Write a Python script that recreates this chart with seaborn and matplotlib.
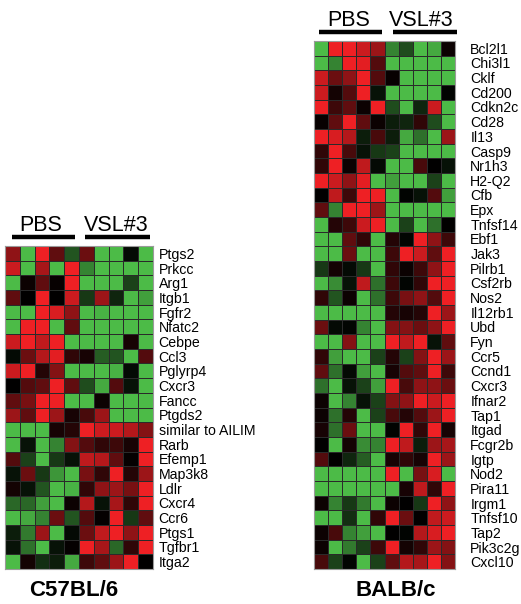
import numpy as np
import pandas as pd
import matplotlib
matplotlib.use("Agg")
import matplotlib.pyplot as plt
from matplotlib.colors import LinearSegmentedColormap
from matplotlib.lines import Line2D
import seaborn as sns

sns.set_theme(style="white")
plt.rcParams["font.family"] = ["Liberation Sans", "DejaVu Sans"]

samples = ["PBS1", "PBS2", "PBS3", "PBS4", "PBS5",
           "VSL1", "VSL2", "VSL3", "VSL4", "VSL5"]

# C57BL/6 genes (relative expression, green = low, red = high)
c57_genes = ["Ptgs2", "Prkcc", "Arg1", "Itgb1", "Fgfr2", "Nfatc2", "Cebpe", "Ccl3",
             "Pglyrp4", "Cxcr3", "Fancc", "Ptgds2", "similar to AILIM", "Rarb",
             "Efemp1", "Map3k8", "Ldlr", "Cxcr4", "Ccr6", "Ptgs1", "Tgfbr1", "Itga2"]
c57_values = [
    [0.60, -1.0, 1.00, 0.40, -0.45, 0.45, -1.0, -1.0, -0.05, -1.0],
    [0.85, -1.0, 0.70, -1.0, 1.00, -0.70, -1.0, -1.0, -1.0, -1.0],
    [-1.0, 0.05, 0.40, 0.03, 1.00, -1.0, -1.0, -1.0, -0.35, -1.0],
    [0.40, 0.00, 1.00, 0.00, 0.85, -0.30, 0.65, -0.20, -1.0, -0.85],
    [-1.0, -1.0, 1.00, 0.90, 0.60, -1.0, -0.95, -1.0, -1.0, -1.0],
    [-1.0, 1.00, 1.00, -1.0, 0.40, -1.0, -1.0, -1.0, -1.0, -1.0],
    [0.85, 1.00, 0.80, 1.00, -1.0, -1.0, -1.0, -1.0, 0.10, -1.0],
    [-0.05, 0.45, 0.75, 0.95, 0.20, 0.10, -0.50, -0.45, -1.0, 0.35],
    [0.85, 1.00, 0.15, 0.55, -1.0, -1.0, -1.0, -0.95, -0.05, -1.0],
    [0.00, 0.35, 0.40, 1.00, 0.40, -0.40, -0.90, 0.35, -0.10, -1.0],
    [0.40, 0.50, 1.00, 1.00, -1.0, -1.0, 0.05, -1.0, -1.0, -1.0],
    [0.65, 0.40, 1.00, 0.65, 0.10, 0.30, 0.65, -1.0, -1.0, -1.0],
    [-1.0, -1.0, -1.0, 0.10, 0.15, 1.00, 0.85, 0.85, 0.75, 0.55],
    [-1.0, -0.10, -1.0, -0.70, 0.55, 0.35, 0.20, 0.25, 0.10, 1.00],
    [0.35, -0.35, -1.0, -0.30, -0.10, 0.80, 0.75, 0.40, 0.02, 1.00],
    [-0.10, 0.45, -0.30, -0.80, -1.0, 0.50, 0.20, 1.00, 0.15, 0.65],
    [0.08, -0.10, -0.45, -1.0, -0.95, 0.20, 0.60, 0.65, 0.50, 1.00],
    [-0.55, -0.55, -0.85, -1.0, 0.05, 0.75, -0.10, 0.70, 0.20, 1.00],
    [-1.0, -0.90, -0.70, 0.45, -0.45, 0.35, 0.02, 1.00, -0.30, 0.40],
    [-0.15, -0.65, 0.65, -1.0, -0.05, 0.45, 0.80, 1.00, 0.60, 1.00],
    [-0.10, -0.60, -1.0, -0.10, 0.02, 1.00, 0.70, -0.55, 0.20, 1.00],
    [-1.0, 0.08, -0.25, -0.15, -0.90, 0.25, 0.40, 0.65, 1.00, 0.00],
]

# BALB/c genes
balb_genes = ["Bcl2l1", "Chi3l1", "Cklf", "Cd200", "Cdkn2c", "Cd28", "Il13", "Casp9",
              "Nr1h3", "H2-Q2", "Cfb", "Epx", "Tnfsf14", "Ebf1", "Jak3", "Pilrb1",
              "Csf2rb", "Nos2", "Il12rb1", "Ubd", "Fyn", "Ccr5", "Ccnd1", "Cxcr3",
              "Ifnar2", "Tap1", "Itgad", "Fcgr2b", "Igtp", "Nod2", "Pira11", "Irgm1",
              "Tnfsf10", "Tap2", "Pik3c2g", "Cxcl10"]
balb_values = [
    [-1.0, 1.00, 1.00, 0.85, 0.65, -0.70, -0.40, -1.0, -0.90, 0.05],
    [-1.0, -0.70, 1.00, 0.95, 0.35, -1.0, -1.0, -1.0, -1.0, -1.0],
    [0.85, 0.45, 0.60, 1.00, 0.35, 0.03, -1.0, -1.0, -1.0, -1.0],
    [0.85, 0.08, 0.35, 1.00, -0.10, -1.0, -1.0, -1.0, -1.0, -0.02],
    [1.00, 0.25, 0.40, 0.05, 1.00, -0.40, -1.0, -0.20, 0.85, -1.0],
    [0.03, 0.40, 1.00, 0.40, 0.05, -0.15, -0.20, 0.20, -0.40, -1.0],
    [1.00, 0.90, 0.75, -0.15, 0.30, -0.15, -0.90, -0.60, -1.0, 0.65],
    [0.20, 1.00, 0.30, -0.10, -0.30, -0.35, -1.0, -1.0, -1.0, -1.0],
    [0.20, 1.00, 0.05, 0.80, -0.05, -1.0, -1.0, 0.30, 0.00, -0.10],
    [1.00, 0.85, 0.60, 0.95, -1.0, -0.85, -1.0, -1.0, -0.35, -1.0],
    [0.00, 0.80, 0.25, 1.00, 1.00, -1.0, -0.02, -0.10, 0.35, -0.85],
    [0.40, -0.70, 1.00, 1.00, 0.65, -1.0, -1.0, -1.0, -1.0, -1.0],
    [-1.0, 0.15, 0.25, 0.85, 1.00, -1.0, -0.35, -1.0, -0.60, 0.00],
    [-1.0, -1.0, 0.40, 0.20, -1.0, 0.15, -0.03, 1.00, 0.60, 0.25],
    [-1.0, -1.0, 0.45, -1.0, -1.0, 0.25, 1.00, 0.85, 0.40, 1.00],
    [-0.30, 0.08, -0.05, -0.30, -1.0, 0.20, 0.05, 0.25, 0.60, 1.00],
    [-1.0, -0.75, -0.10, 0.80, -0.60, 0.25, -0.03, 0.20, 1.00, 1.00],
    [0.20, -0.45, 0.05, -1.0, -0.60, 0.25, 0.50, 0.60, 0.35, 1.00],
    [-1.0, -1.0, -1.0, -1.0, -1.0, 0.15, 0.10, 0.15, 1.00, 0.65],
    [0.45, -0.05, -0.03, -0.70, -1.0, 0.55, 0.55, 0.45, 0.60, 1.00],
    [-1.0, -1.0, 0.55, -1.0, -1.0, 1.00, 0.80, 1.00, -0.10, 0.40],
    [0.20, -0.85, -1.0, -1.0, -0.35, 0.15, -0.35, 0.55, 1.00, 0.65],
    [0.40, -0.60, -0.05, -0.85, -1.0, 0.10, 0.35, 0.40, 1.00, 0.25],
    [-0.60, -1.0, -0.10, -0.35, -0.85, 1.00, 0.30, 0.60, 0.60, 0.45],
    [0.05, -1.0, -0.70, -0.10, -0.35, 0.55, 0.60, 1.00, 0.85, 1.00],
    [0.05, -0.60, 0.15, -1.0, -0.35, 0.30, 0.15, 0.35, 0.65, 1.00],
    [0.10, -0.60, 0.45, -1.0, -1.0, -0.02, 1.00, 0.20, 1.00, 0.10],
    [0.00, -1.0, 0.08, -0.75, -0.70, 1.00, 0.80, -0.15, 0.65, 0.70],
    [0.35, 0.00, -0.20, -0.50, -1.0, 0.10, 0.20, 0.10, 1.00, 0.65],
    [-1.0, -1.0, -1.0, -1.0, -1.0, 1.00, -1.0, 0.50, 0.90, -1.0],
    [-1.0, -1.0, -1.0, -1.0, -1.0, -1.0, 0.10, 0.80, 0.20, 1.00],
    [0.05, -0.70, -0.30, -0.65, -1.0, 0.05, 0.00, -0.30, 1.00, 0.60],
    [-1.0, -1.0, -0.25, -1.0, 0.20, 1.00, 0.45, 0.00, 0.80, 0.85],
    [0.05, 0.30, -0.70, -0.85, -1.0, 0.00, -0.02, 0.75, 0.90, 1.00],
    [0.05, -1.0, -0.65, -0.35, 0.25, 1.00, 0.08, 0.20, 0.65, 0.55],
    [0.30, -0.35, -0.03, -1.0, -0.35, 0.40, 0.75, 0.70, 1.00, 0.55],
]

group_labels = ["PBS", "VSL#3"]
strain_labels = ["C57BL/6", "BALB/c"]

W, H = 521, 604
fig = plt.figure(figsize=(W / 100, H / 100), dpi=100)
fig.patch.set_facecolor("white")

cmap = LinearSegmentedColormap.from_list(
    "gkr", [(0.0, "#4cbb47"), (0.5, "#000000"), (1.0, "#ee2024")])


def box(x0, y0, x1, y1):
    return [x0 / W, 1 - y1 / H, (x1 - x0) / W, (y1 - y0) / H]


def draw_panel(rect, genes, values, label_pad):
    ax = fig.add_axes(rect)
    df = pd.DataFrame(values, index=genes, columns=samples)
    sns.heatmap(df, ax=ax, cmap=cmap, vmin=-1, vmax=1, cbar=False,
                linewidths=0.6, linecolor="#2a2a2a", square=False,
                xticklabels=False, yticklabels=True)
    ax.yaxis.tick_right()
    ax.set_yticklabels(genes, rotation=0, fontsize=10.2, color="black")
    ax.tick_params(axis="y", length=0, pad=label_pad)
    ax.set_xlabel("")
    ax.set_ylabel("")
    for s in ax.spines.values():
        s.set_visible(True)
        s.set_color("#9a9a9a")
        s.set_linewidth(0.8)
    return ax


draw_panel(box(5, 246, 153, 569), c57_genes, c57_values, 4)
draw_panel(box(314, 41, 455, 569), balb_genes, balb_values, 11)


def group_header(text, cx, base_y, bx0, bx1, bar_y):
    fig.text(cx / W, 1 - base_y / H, text, ha="center", va="baseline",
             fontsize=15.5, color="black")
    fig.add_artist(Line2D([bx0 / W, bx1 / W], [1 - bar_y / H, 1 - bar_y / H],
                          color="black", linewidth=3.2, solid_capstyle="butt"))


# headers over the C57BL/6 panel
group_header(group_labels[0], 41, 231, 12, 75, 236.5)
group_header(group_labels[1], 116, 231, 85, 150, 236.5)
# headers over the BALB/c panel
group_header(group_labels[0], 349, 26, 319, 382, 31.5)
group_header(group_labels[1], 421, 26, 393, 457, 31.5)

fig.text(74 / W, 1 - 596 / H, strain_labels[0], ha="center", va="baseline",
         fontsize=16, fontweight="bold", color="black")
fig.text(396 / W, 1 - 596 / H, strain_labels[1], ha="center", va="baseline",
         fontsize=16, fontweight="bold", color="black")

fig.savefig("out.png", dpi=100, facecolor="white")
